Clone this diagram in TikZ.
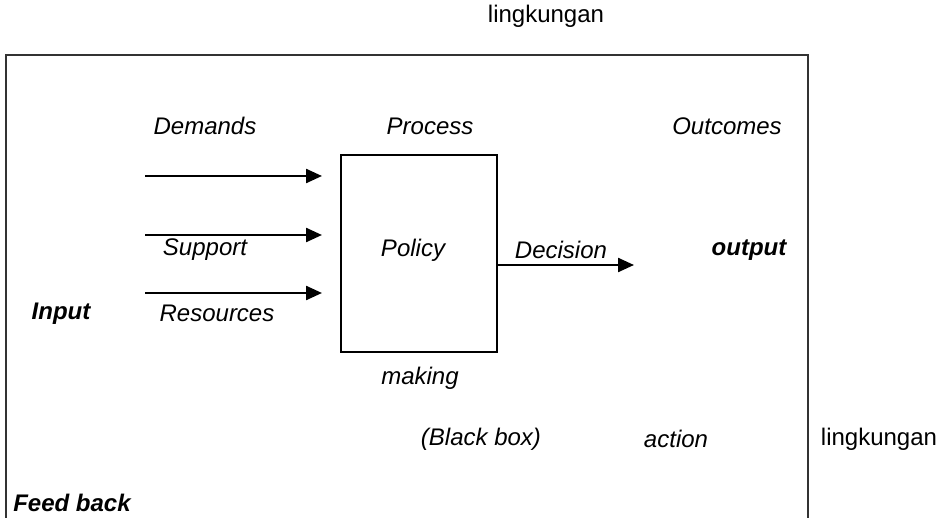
\documentclass[tikz,border=0pt]{standalone}
\usepackage{fontspec}
\setmainfont{Liberation Sans}
\usetikzlibrary{arrows.meta}
\usetikzlibrary{positioning}

\tikzset{
	lbl/.style={font=\fontsize{12}{14}\selectfont\itshape, inner sep=0pt},
	blbl/.style={font=\fontsize{12}{14}\selectfont\bfseries\itshape, inner sep=0pt},
	plain/.style={font=\fontsize{12}{14}\selectfont, inner sep=0pt},
	flow/.style={line width=1.2pt, -{Triangle[length=8pt,width=7pt]}}
}

\begin{document}
\begin{tikzpicture}[x=0.5pt, y=-0.5pt]
	\useasboundingbox (0,0) rectangle (942,518);
	%environment box, open at the bottom
	\draw[line width=1.2pt, black!80] (6,518) -- (6,55) -- (808,55) -- (808,518);
	\node[plain] (envtop) at (546,16) {lingkungan};
	\node[plain] (envright) at (879,439) {lingkungan};
	%black box
	\node[draw, line width=1.2pt, minimum width=78pt, minimum height=98.5pt, inner sep=0pt] (policy) at (419,253.5) {};
	\node[lbl] (poltext) at (413,250) {Policy};
	\node[lbl] (process) at (430,126) {Process};
	\node[lbl] (making) at (420,378) {making};
	\node[lbl] (blackbox) at (481,439) {(Black box)};
	%inputs
	\node[lbl] (demands) at (205,126) {Demands};
	\node[lbl] (support) at (205,250) {Support};
	\node[lbl] (resources) at (217,313) {Resources};
	\node[blbl] (input) at (61,314) {Input};
	\coordinate (in1s) at (145,176);
	\coordinate (in1e) at (322,176);
	\coordinate (in2s) at (145,235);
	\coordinate (in2e) at (322,235);
	\coordinate (in3s) at (145,293);
	\coordinate (in3e) at (322,293);
	\draw[flow] (in1s) -- (in1e);
	\draw[flow] (in2s) -- (in2e);
	\draw[flow] (in3s) -- (in3e);
	%outputs
	\coordinate (dec) at (634,265);
	\draw[flow] (policy.east |- dec) -- (dec);
	\node[lbl] (decision) at (561,250) {Decision};
	\node[blbl] (output) at (749,250) {output};
	\node[lbl] (outcomes) at (727,126) {Outcomes};
	\node[lbl] (action) at (676,439) {action};
	\node[blbl] (feedback) at (72,503) {Feed back};
\end{tikzpicture}
\end{document}
